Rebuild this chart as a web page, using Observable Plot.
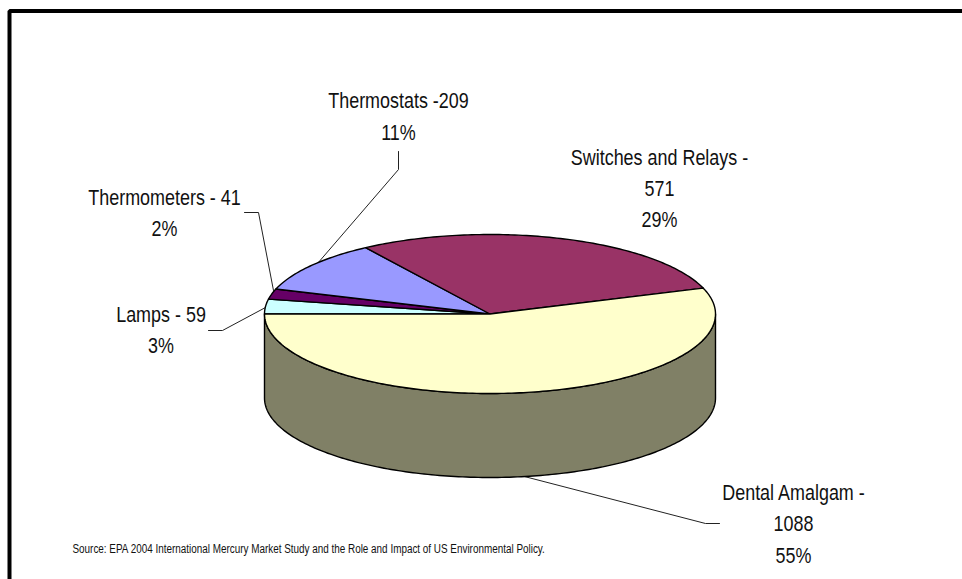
<!DOCTYPE html>
<html>
<head>
<meta charset="utf-8">
<script src="https://cdn.jsdelivr.net/npm/d3@7"></script>
<script src="https://cdn.jsdelivr.net/npm/@observablehq/plot@0.6"></script>
<style>
html,body{margin:0;padding:0;background:#fff;overflow:hidden}
svg{display:block}
</style>
</head>
<body>
<div id="chart"></div>
<script>
// Data, clockwise from the left edge of the pie
const categories = ["Lamps", "Thermometers", "Thermostats", "Switches and Relays", "Dental Amalgam"];
const values = [59, 41, 209, 571, 1088];
const sliceColors = ["#CCFFFF", "#660066", "#9999FF", "#993366", "#FFFFCC"];
const labelLines = ["Lamps - 59", "3%", "Thermometers - 41", "2%", "Thermostats -209", "11%",
  "Switches and Relays -", "571", "29%", "Dental Amalgam -", "1088", "55%"];
const source = "Source: EPA 2004 International Mercury Market Study and the Role and Impact of US Environmental Policy.";

// Layout
const W = 962, H = 579;
const pie = {cx: 489.5, cy: 313.5, rx: 225.5, ry: 79.5, depth: 84, start: 270};
const sideColor = "#808066";
const labelX = [160.5, 160.5, 164, 164, 398, 398, 659, 659, 659, 793, 793, 793];
const labelY = [314.5, 345.5, 197.5, 228.5, 100, 132, 157, 188, 219, 492, 523, 555];
const leaders = [
  [[208,330],[222,330],[265,307]],
  [[244,212],[258,212],[273,290]],
  [[398,151],[398,169],[317,263]],
  [[520,475],[705,523],[719,523]]
];

const pt = (deg, dy = 0) => {
  const a = deg * Math.PI / 180;
  return {x: pie.cx + pie.rx * Math.sin(a), y: pie.cy + dy - pie.ry * Math.cos(a)};
};
const arc = (a0, a1, dy = 0) => {
  const n = Math.max(2, Math.ceil(Math.abs(a1 - a0)));
  return d3.range(n + 1).map(i => pt(a0 + (a1 - a0) * i / n, dy));
};

const total = d3.sum(values);
const ends = d3.cumsum(values).map(v => pie.start + v / total * 360);
const slices = values.map((v, i) => {
  const a0 = i ? ends[i - 1] : pie.start;
  const c = {x: pie.cx, y: pie.cy};
  return {fill: sliceColors[i], name: categories[i], pts: [c, ...arc(a0, ends[i]), c]};
});
const side = [...arc(90, 270), ...arc(270, 90, pie.depth)];
side.push(side[0]);
const labels = labelLines.map((t, i) => ({t, x: labelX[i], y: labelY[i]}));
const P = {x: "x", y: "y"};
const T = ([x, y]) => ({x, y});

const svg = Plot.plot({
  width: W, height: H, margin: 0,
  x: {domain: [0, W], range: [0, W], axis: null},
  y: {domain: [0, H], range: [0, H], axis: null},
  style: {background: "#fff", fontFamily: "'Liberation Sans', Arial, sans-serif"},
  marks: [
    Plot.line([{x: 9, y: H}, {x: 9, y: 10.5}, {x: W, y: 10.5}], {...P, stroke: "#000", strokeWidth: 4, strokeLinejoin: "miter"}),
    ...leaders.map(l => Plot.line(l.map(T), {...P, stroke: "#222", strokeWidth: 1})),
    Plot.line(side, {...P, fill: sideColor, stroke: "#000", strokeWidth: 1.4}),
    ...slices.map(s => Plot.line(s.pts, {...P, fill: s.fill, stroke: "#000", strokeWidth: 1.4, strokeLinejoin: "round"})),
    Plot.text(labels, {x: "x", y: "y", text: "t", fontSize: 22, fill: "#111", textAnchor: "middle", lineAnchor: "middle", className: "lab"}),
    Plot.text([{x: 72, y: 549, t: source}], {x: "x", y: "y", text: "t", fontSize: 12, fill: "#111", textAnchor: "start", lineAnchor: "middle", className: "src"})
  ]
});
document.getElementById("chart").appendChild(svg);

// Narrow the Arial-like text to the condensed look of the original
const squeeze = {lab: 0.815, src: 0.825};
for (const key of Object.keys(squeeze)) {
  svg.querySelectorAll(`.${key} text`).forEach(t => {
    const len = t.getComputedTextLength();
    t.setAttribute("textLength", (len * squeeze[key]).toFixed(1));
    t.setAttribute("lengthAdjust", "spacingAndGlyphs");
  });
}
</script>
</body>
</html>
